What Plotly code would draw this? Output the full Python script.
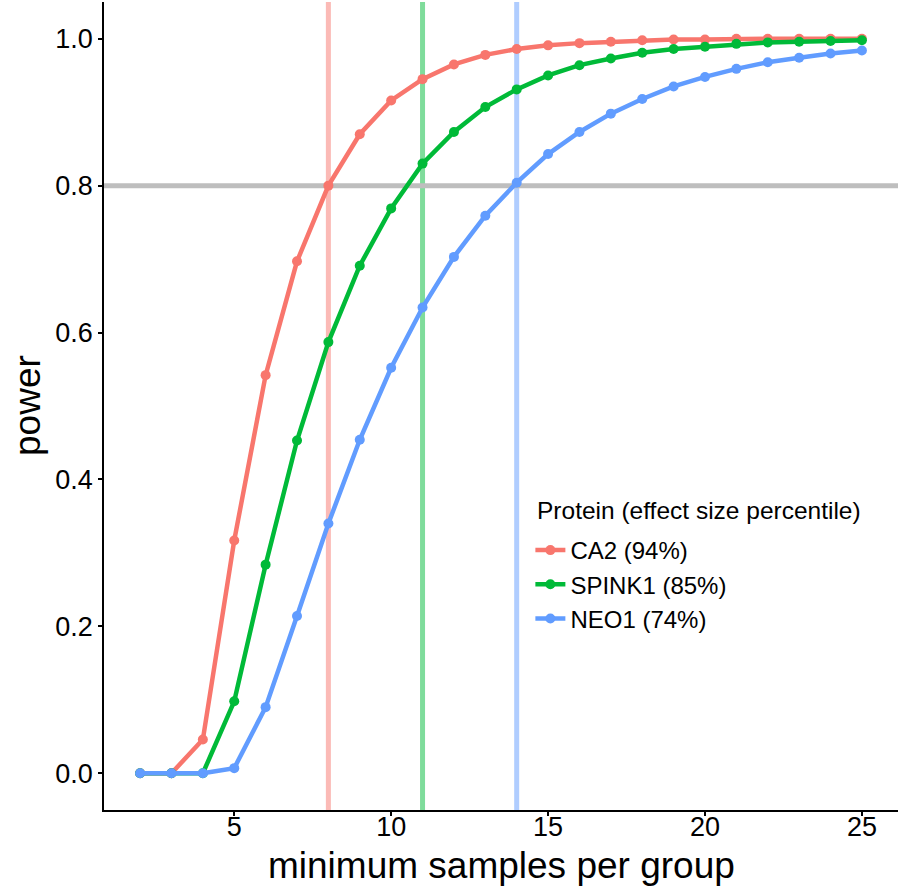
import plotly.graph_objects as go

samples = list(range(2, 26))
ca2 = [0, 0, 0.046, 0.317, 0.542, 0.697, 0.800, 0.870, 0.916, 0.945, 0.965, 0.978, 0.986,
       0.991, 0.994, 0.996, 0.998, 0.999, 0.999, 1.0, 1.0, 1.0, 1.0, 1.0]
spink1 = [0, 0, 0, 0.098, 0.284, 0.453, 0.587, 0.691, 0.769, 0.830, 0.873, 0.907, 0.931,
          0.950, 0.964, 0.973, 0.981, 0.986, 0.989, 0.993, 0.995, 0.996, 0.997, 0.998]
neo1 = [0, 0, 0, 0.007, 0.090, 0.214, 0.340, 0.454, 0.552, 0.634, 0.703, 0.759, 0.804,
        0.843, 0.873, 0.898, 0.918, 0.935, 0.948, 0.959, 0.968, 0.974, 0.980, 0.984]

series_names = ["CA2 (94%)", "SPINK1 (85%)", "NEO1 (74%)"]
series_values = [ca2, spink1, neo1]
series_colors = ["#F8766D", "#00BA38", "#619CFF"]
vline_colors = ["rgba(248,118,109,0.5)", "rgba(0,186,56,0.5)", "rgba(97,156,255,0.5)"]
threshold_samples = [8, 11, 14]
power_threshold = 0.8

y_ticks = [0, 0.2, 0.4, 0.6, 0.8, 1.0]
x_ticks = [5, 10, 15, 20, 25]

legend_title = "Protein (effect size percentile)"
x_title = "minimum samples per group"
y_title = "power"

fig = go.Figure()

for xv, col in zip(threshold_samples, vline_colors):
    fig.add_shape(type="line", xref="x", yref="paper", x0=xv, x1=xv, y0=0, y1=1,
                  line=dict(color=col, width=5), layer="below")
fig.add_shape(type="line", xref="paper", yref="y", x0=0, x1=1,
              y0=power_threshold, y1=power_threshold,
              line=dict(color="#BEBEBE", width=5), layer="below")

for name, vals, col in zip(series_names, series_values, series_colors):
    fig.add_trace(go.Scatter(x=samples, y=vals, mode="lines+markers", name=name,
                             line=dict(color=col, width=4.5),
                             marker=dict(color=col, size=10)))

font_family = "Liberation Sans, Arial, Helvetica, sans-serif"
fig.update_layout(
    width=898, height=887,
    margin=dict(l=104, r=0, t=2, b=77, autoexpand=False),
    plot_bgcolor="white", paper_bgcolor="white",
    font=dict(family=font_family, color="black"),
    showlegend=True,
    legend=dict(
        font=dict(size=24),
        x=0.537, y=0.349, xanchor="left", yanchor="top",
        bgcolor="rgba(0,0,0,0)", itemwidth=30,
    ),
    xaxis=dict(
        range=[0.85, 26.15], tickvals=x_ticks, showgrid=False, zeroline=False,
        showline=True, linecolor="black", linewidth=1.5, automargin=False,
        ticks="outside", ticklen=4, tickcolor="black", tickwidth=1.5,
        tickfont=dict(size=27, color="black"), ticklabelstandoff=-12,
    ),
    yaxis=dict(
        range=[-0.05, 1.05], tickvals=y_ticks, tickformat=".1f", showgrid=False, zeroline=False,
        showline=True, linecolor="black", linewidth=1.5, automargin=False,
        ticks="outside", ticklen=4, tickcolor="black", tickwidth=1.5,
        tickfont=dict(size=27, color="black"), ticklabelstandoff=0,
    ),
    annotations=[
        dict(text=x_title, xref="paper", yref="paper",
             x=0.5, y=-0.0693, xanchor="center", yanchor="middle", showarrow=False,
             font=dict(size=37, color="black")),
        dict(text=y_title, xref="paper", yref="paper", textangle=-90,
             x=(27 - 104) / 794, y=0.5, xanchor="center", yanchor="middle", showarrow=False,
             font=dict(size=37, color="black")),
        dict(text=legend_title, xref="paper", yref="paper",
             x=(535 - 104) / 794, y=(810 - 510) / 808, xanchor="left", yanchor="middle",
             showarrow=False, font=dict(size=24.5, color="black")),
    ],
)

fig.write_html("out.html", config={"displayModeBar": False},
               post_script="document.body.style.margin='0';document.body.style.overflow='hidden';")
